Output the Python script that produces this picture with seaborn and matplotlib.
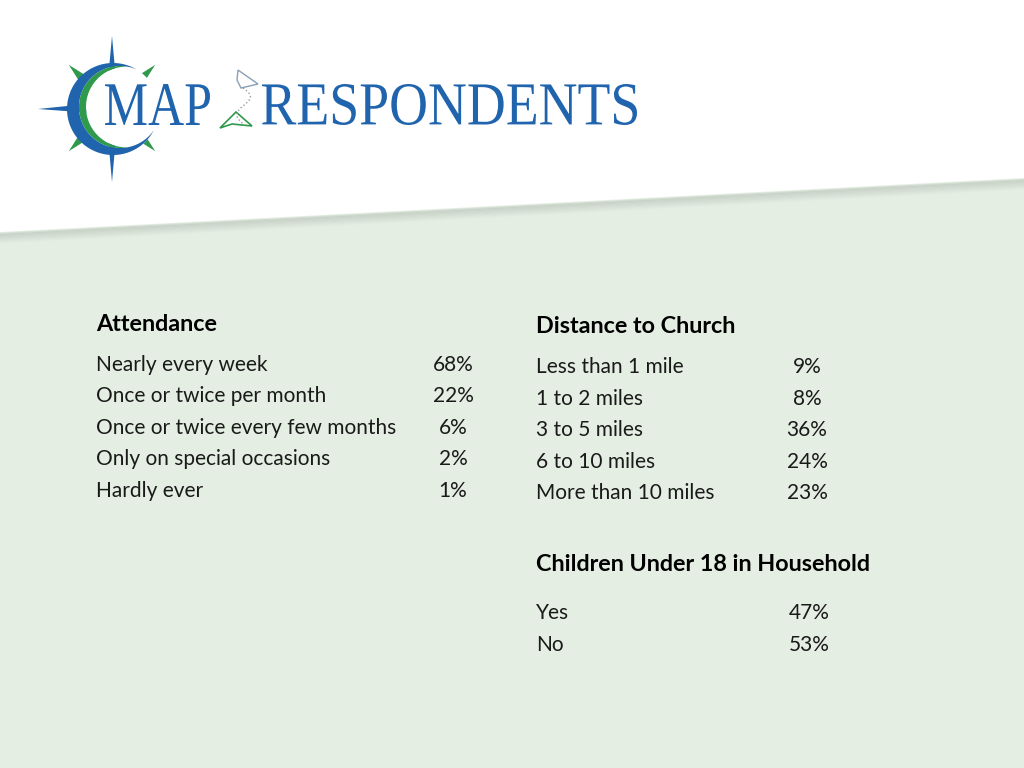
import numpy as np
import seaborn as sns
import matplotlib.pyplot as plt
from matplotlib.patches import Polygon, PathPatch
from matplotlib.textpath import TextPath
from matplotlib.font_manager import FontProperties
import matplotlib.transforms as mtransforms

# survey results
attendance_labels = ['Nearly every week', 'Once or twice per month',
                     'Once or twice every few months', 'Only on special occasions',
                     'Hardly ever']
attendance_values = [68, 22, 6, 2, 1]

distance_labels = ['Less than 1 mile', '1 to 2 miles', '3 to 5 miles',
                   '6 to 10 miles', 'More than 10 miles']
distance_values = [9, 8, 36, 24, 23]

children_labels = ['Yes', 'No']
children_values = [47, 53]

sns.set_theme(style='white')
plt.rcParams['font.family'] = ['Lato', 'DejaVu Sans']

BG = '#e4eee2'
TXT = '#1a1a1a'
BLUE = '#1f64ad'
GREEN = '#2f9a4c'

fig = plt.figure(figsize=(10.24, 7.68), dpi=100)
ax = fig.add_axes([0, 0, 1, 1])
ax.set_xlim(0, 1024)
ax.set_ylim(768, 0)
ax.axis('off')

# background: green slide with slanted white header band
ax.add_patch(Polygon([(0, 0), (1024, 0), (1024, 768), (0, 768)], color=BG, lw=0))
for k in range(8):
    off = 2 + k * 1.2
    ax.plot([0, 1024], [232 + off, 178 + off], color='#9aa39a',
            alpha=0.22 * (1 - k / 8), lw=1.6, solid_capstyle='butt')
ax.add_patch(Polygon([(0, 0), (1024, 0), (1024, 178), (0, 232)], color='white', lw=0))


def fit_text(s, x0, x1, ytop, ybot, color, family):
    tp = TextPath((0, 0), s, size=100, prop=FontProperties(family=family))
    bb = tp.get_extents()
    sx = (x1 - x0) / bb.width
    sy = (ybot - ytop) / bb.height
    tr = mtransforms.Affine2D().translate(-bb.x0, -bb.y0).scale(sx, -sy).translate(x0, ybot)
    ax.add_patch(PathPatch(tr.transform_path(tp), color=color, lw=0))


def circle_pts(c, r, n=720):
    t = np.linspace(0, 2 * np.pi, n, endpoint=False)
    return np.c_[c[0] + r * np.cos(t), c[1] - r * np.sin(t)]


def crescent(c1, r1, c2, r2):
    a = circle_pts(c1, r1)
    a = a[np.hypot(a[:, 0] - c2[0], a[:, 1] - c2[1]) > r2]
    b = circle_pts(c2, r2)
    b = b[np.hypot(b[:, 0] - c1[0], b[:, 1] - c1[1]) < r1]
    return np.r_[a, b[::-1]]


def lens(c1, r1, c2, r2):
    a = circle_pts(c1, r1)
    a = a[np.hypot(a[:, 0] - c2[0], a[:, 1] - c2[1]) <= r2]
    b = circle_pts(c2, r2)
    b = b[np.hypot(b[:, 0] - c1[0], b[:, 1] - c1[1]) <= r1]
    p = np.r_[a, b]
    m = p.mean(axis=0)
    return p[np.argsort(np.arctan2(p[:, 1] - m[1], p[:, 0] - m[0]))]


# logo: compass star
cx, cy = 112, 108
for a in [45, 135, 225, 315]:
    r = np.deg2rad(a)
    tip = (cx + 61 * np.cos(r), cy - 61 * np.sin(r))
    b1 = (cx + 38 * np.cos(r + 0.14), cy - 38 * np.sin(r + 0.14))
    b2 = (cx + 38 * np.cos(r - 0.14), cy - 38 * np.sin(r - 0.14))
    ax.add_patch(Polygon([tip, b1, b2], color=GREEN, lw=0))
star = [(cx, 36), (cx + 6, cy - 6), (cx + 40, cy), (cx + 6, cy + 6), (cx, 182),
        (cx - 6, cy + 6), (38, cy + 1), (cx - 6, cy - 6)]
ax.add_patch(Polygon(star, color=BLUE, lw=0))

# crescents
C1, R1 = (113, 109), 46
C2, R2 = (120, 107), 41
C3, R3 = (126.3, 107), 40.3
ax.add_patch(Polygon(lens(C1, R1, C3, R3), color='white', lw=0))
ax.add_patch(Polygon(crescent(C1, R1, C2, R2), color=BLUE, lw=0))
ax.add_patch(Polygon(crescent(C2, R2, C3, R3), color=GREEN, lw=0))

# logo text
fit_text('MAP', 105, 210, 84, 125, BLUE, 'Liberation Serif')
fit_text('RESPONDENTS', 262, 637, 84, 125, BLUE, 'Liberation Serif')

# paper planes and dotted path
ax.add_patch(Polygon([(238, 70), (258, 84), (241, 88), (237, 80)], fill=False,
                     ec='#8aa0b5', lw=1.0))
ax.add_patch(Polygon([(220, 128), (236, 112), (252, 126), (232, 124)], fill=False,
                     ec=GREEN, lw=1.2))
sy_ = np.linspace(0, 1, 40)
ax.plot(243 + 8 * np.sin(sy_ * 2 * np.pi) * (1 - sy_ * 0.3), 88 + 36 * sy_,
        color='#9a9a9a', ls=':', lw=1.0)

# tables
FS = 15.0
HFS = 16.8


def table(title, title_y, labels, values, x_lab, x_val, y0, step):
    ax.text(x_lab, title_y, title, fontsize=HFS, fontweight='bold', color='black',
            va='baseline', ha='left')
    for i, (lab, v) in enumerate(zip(labels, values)):
        y = y0 + i * step
        ax.text(x_lab, y, lab, fontsize=FS, color=TXT, va='baseline', ha='left')
        ax.text(x_val, y, f'{v}%', fontsize=FS, color=TXT, va='baseline', ha='center')


table('Attendance', 331, attendance_labels, attendance_values, 96, 453, 370.7, 31.5)
table('Distance to Church', 333.3, distance_labels, distance_values, 536, 807, 373.3, 31.5)
table('Children Under 18 in Household', 570.7, children_labels, children_values,
      536, 809, 619, 31.7)

fig.savefig('out.png', dpi=100, facecolor='white')
